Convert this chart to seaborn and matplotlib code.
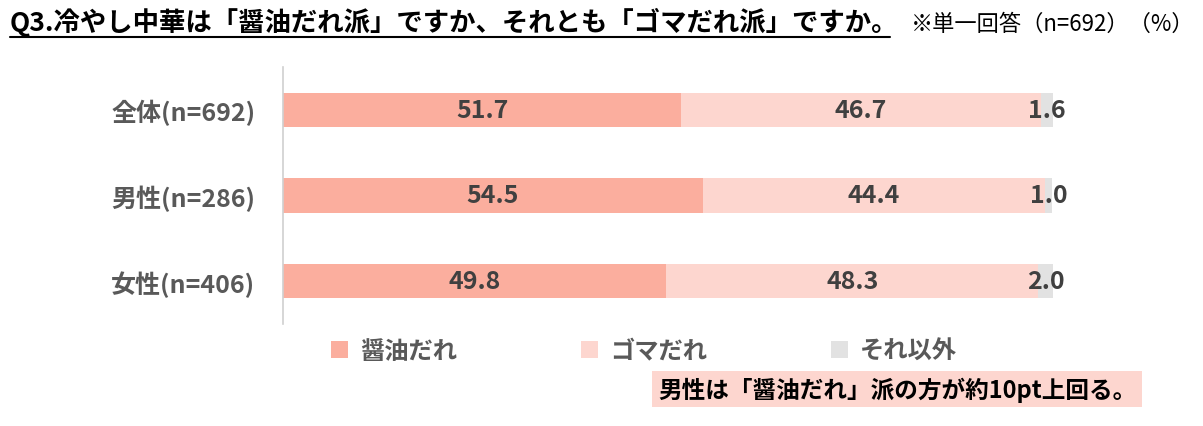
import pandas as pd
import matplotlib
matplotlib.use('Agg')
import matplotlib.pyplot as plt
import seaborn as sns
from matplotlib.patches import Patch

sns.set_style('white')
plt.rcParams['font.family'] = ['Noto Sans CJK JP', 'DejaVu Sans']

# Data
groups = ['全体(n=692)', '男性(n=286)', '女性(n=406)']
series = ['醤油だれ', 'ゴマだれ', 'それ以外']
shoyu = [51.7, 54.5, 49.8]
goma = [46.7, 44.4, 48.3]
other = [1.6, 1.0, 2.0]
colors = ['#FBAE9E', '#FDD6CF', '#E2E2E2']

title = 'Q3.冷やし中華は「醤油だれ派」ですか、それとも「ゴマだれ派」ですか。'
note = '※単一回答（n=692）（%）'
comment = '男性は「醤油だれ」派の方が約10pt上回る。'

df = pd.DataFrame({'group': groups, '醤油だれ': shoyu, 'ゴマだれ': goma, 'それ以外': other})
df['c1'] = df['醤油だれ']
df['c2'] = df['c1'] + df['ゴマだれ']
df['c3'] = df['c2'] + df['それ以外']

fig = plt.figure(figsize=(12.03, 4.27), dpi=100)
ax = fig.add_axes([283 / 1203, 1 - 325 / 427, 770 / 1203, 257 / 427])

# stacked bars drawn as layered cumulative totals
for col, c in zip(['c3', 'c2', 'c1'], colors[::-1]):
    sns.barplot(data=df, x=col, y='group', color=c, width=0.4, orient='h',
                saturation=1, linewidth=0, ax=ax)

# value labels centred in each segment
for i, row in df.iterrows():
    starts = [0, row['c1'], row['c2']]
    for s, name in zip(starts, series):
        v = row[name]
        ax.text(s + v / 2, i, f'{v:.1f}', ha='center', va='center',
                fontsize=18, fontweight='bold', color='#404040')

ax.set_xlim(0, 100)
ax.set_ylim(2.5, -0.5)
ax.set_xlabel('')
ax.set_ylabel('')
ax.set_xticks([])
for s in ['top', 'right', 'bottom']:
    ax.spines[s].set_visible(False)
ax.spines['left'].set_color('#D0D0D0')
ax.spines['left'].set_linewidth(1.2)
ax.tick_params(axis='y', length=0, pad=20)
for lbl in ax.get_yticklabels():
    lbl.set_fontsize(18)
    lbl.set_fontweight('bold')
    lbl.set_color('#595959')

# title and note
fig.text(10 / 1203, 1 - 22 / 427, title, ha='left', va='center',
         fontsize=19, fontweight='bold', color='black')
fig.add_artist(plt.Line2D([10 / 1203, 890 / 1203], [1 - 38 / 427, 1 - 38 / 427],
                          color='black', linewidth=1.5))
fig.text(1195 / 1203, 1 - 24 / 427, note, ha='right', va='center',
         fontsize=16, color='black')

# legend
handles = [Patch(facecolor=c, edgecolor='none') for c in colors]
leg = fig.legend(handles, series, loc='center left', ncol=3,
                 bbox_to_anchor=(309 / 1203, 1 - 352 / 427), frameon=False,
                 handlelength=0.7, handleheight=0.7, handletextpad=0.5,
                 columnspacing=5.1, prop={'size': 17.5, 'weight': 'bold'})
for txt in leg.get_texts():
    txt.set_color('#595959')

# comment box
fig.text(658 / 1203, 1 - 390 / 427, comment, ha='left', va='center',
         fontsize=17, fontweight='bold', color='black',
         bbox=dict(facecolor='#FDD6CF', edgecolor='none', pad=4))

fig.savefig('out.png', dpi=100)
